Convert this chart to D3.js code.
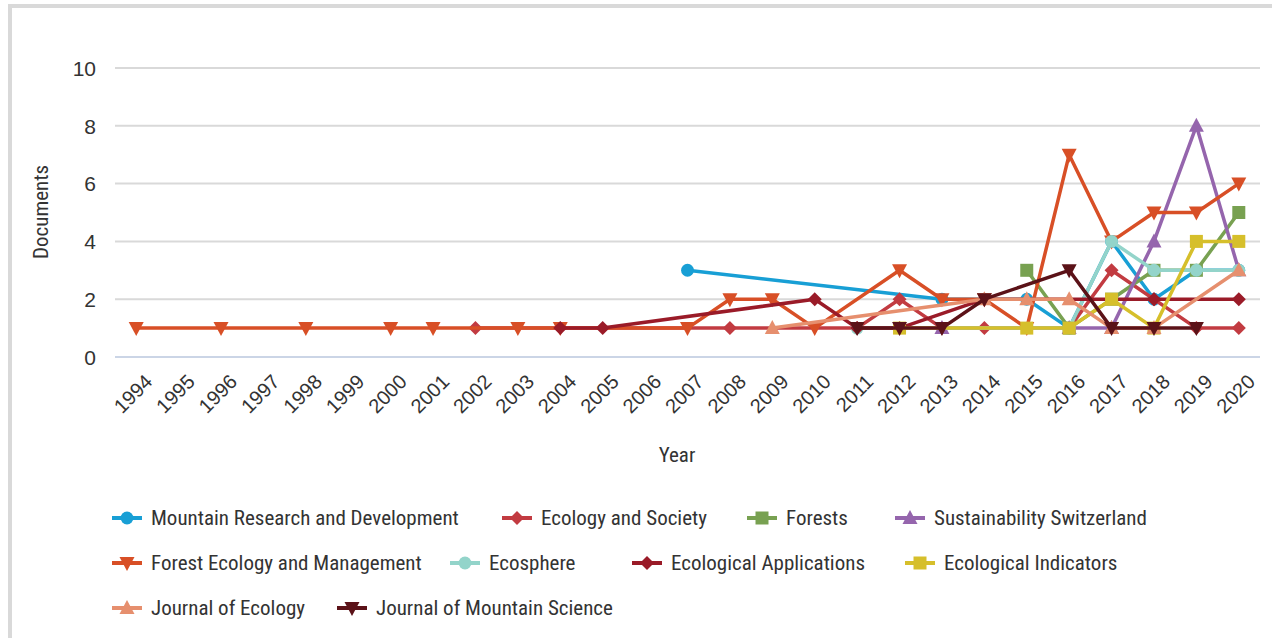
<!DOCTYPE html>
<html>
<head>
<meta charset="utf-8">
<script src="https://cdn.jsdelivr.net/npm/d3@7/dist/d3.min.js"></script>
<style>
  body { margin: 0; background: #fff; }
  svg { display: block; }
  text { font-family: "Liberation Sans Narrow", "Roboto Condensed", "Open Sans", sans-serif; fill: #333; }
</style>
</head>
<body>
<svg id="chart" width="1272" height="638"></svg>
<script>
const years = d3.range(1994, 2021).map(String);
const yTicks = [0, 2, 4, 6, 8, 10];

const seriesNames = [
  "Mountain Research and Development", "Ecology and Society", "Forests", "Sustainability Switzerland",
  "Forest Ecology and Management", "Ecosphere", "Ecological Applications", "Ecological Indicators",
  "Journal of Ecology", "Journal of Mountain Science"
];
const seriesColors = ["#189fd5", "#c23b41", "#78a151", "#9565ad", "#d84f26", "#93d4ca", "#9a1b28", "#d6bf2b", "#e68f6e", "#5b1218"];
const seriesSymbols = ["circle", "diamond", "square", "triUp", "triDown", "circle", "diamond", "square", "triUp", "triDown"];

// [year, documents]
const mrdValues = [[2007,3],[2013,2],[2015,2],[2016,1],[2017,4],[2018,2],[2019,3],[2020,3]];
const esValues = [[2002,1],[2008,1],[2011,1],[2012,2],[2013,1],[2014,1],[2016,1],[2017,3],[2018,2],[2019,1],[2020,1]];
const forestsValues = [[2015,3],[2016,1],[2017,2],[2018,3],[2019,3],[2020,5]];
const sustValues = [[2013,1],[2016,1],[2017,1],[2018,4],[2019,8],[2020,3]];
const femValues = [[1994,1],[1996,1],[1998,1],[2000,1],[2001,1],[2003,1],[2004,1],[2007,1],[2008,2],[2009,2],[2010,1],[2012,3],[2013,2],[2014,2],[2015,1],[2016,7],[2017,4],[2018,5],[2019,5],[2020,6]];
const ecosphereValues = [[2011,1],[2016,1],[2017,4],[2018,3],[2019,3],[2020,3]];
const eaValues = [[2004,1],[2005,1],[2010,2],[2011,1],[2012,1],[2014,2],[2018,2],[2020,2]];
const eiValues = [[2012,1],[2015,1],[2016,1],[2017,2],[2018,1],[2019,4],[2020,4]];
const joeValues = [[2009,1],[2014,2],[2015,2],[2016,2],[2017,1],[2018,1],[2020,3]];
const jmsValues = [[2011,1],[2012,1],[2013,1],[2014,2],[2016,3],[2017,1],[2018,1],[2019,1]];

const seriesValues = [mrdValues, esValues, forestsValues, sustValues, femValues, ecosphereValues, eaValues, eiValues, joeValues, jmsValues];

const svg = d3.select("#chart");

// frame
svg.append("rect").attr("x", 10).attr("y", 6).attr("width", 1275).attr("height", 700)
  .attr("fill", "none").attr("stroke", "#d9d9d9").attr("stroke-width", 4);

const x = d3.scalePoint().domain(years).range([115, 1260]).padding(0.5);
const y = d3.scaleLinear().domain([0, 10]).range([357, 68]);

// gridlines
svg.append("g").selectAll("line").data(yTicks).join("line")
  .attr("x1", 115).attr("x2", 1260)
  .attr("y1", d => y(d)).attr("y2", d => y(d))
  .attr("stroke", d => d === 0 ? "#cbd5e6" : "#d9d9d9").attr("stroke-width", 2);

// y axis labels
const yAxis = d3.axisLeft(y).tickValues(yTicks).tickSize(0).tickPadding(0);
const yg = svg.append("g").attr("transform", "translate(96,0)").call(yAxis);
yg.select(".domain").remove();
yg.selectAll("text").style("font-size", "21px").attr("fill", "#333")
  .style("font-family", "'Liberation Sans Narrow', sans-serif").attr("dy", "0.35em");

// x axis labels
const xAxis = d3.axisBottom(x).tickSize(0).tickPadding(0);
const xg = svg.append("g").attr("transform", "translate(0,372)").call(xAxis);
xg.select(".domain").remove();
xg.selectAll("text").style("font-size", "20px").attr("fill", "#333")
  .style("font-family", "'Liberation Sans Narrow', sans-serif")
  .attr("text-anchor", "end").attr("dy", "0.35em")
  .attr("transform", "translate(12,6) rotate(-45)");

// axis titles
svg.append("text").attr("x", 677).attr("y", 462).attr("text-anchor", "middle")
  .style("font-size", "21px").text("Year");
svg.append("text").attr("transform", "translate(48,212) rotate(-90)").attr("text-anchor", "middle")
  .style("font-size", "21px").text("Documents");

function symbolPath(kind) {
  switch (kind) {
    case "circle": return d3.symbol().type(d3.symbolCircle).size(130)();
    case "diamond": return "M0,-7L7,0L0,7L-7,0Z";
    case "square": return "M-6.5,-6.5H6.5V6.5H-6.5Z";
    case "triUp": return "M0,-8L7.5,6L-7.5,6Z";
    case "triDown": return "M0,8L7.5,-6L-7.5,-6Z";
  }
}

const line = d3.line().x(d => x(String(d[0]))).y(d => y(d[1]));

seriesValues.forEach((vals, i) => {
  const g = svg.append("g");
  g.append("path").attr("d", line(vals)).attr("fill", "none")
    .attr("stroke", seriesColors[i]).attr("stroke-width", 3.5).attr("stroke-linejoin", "round");
  g.selectAll("path.m").data(vals).join("path").attr("class", "m")
    .attr("d", symbolPath(seriesSymbols[i]))
    .attr("transform", d => `translate(${x(String(d[0]))},${y(d[1])})`)
    .attr("fill", seriesColors[i]);
});

// legend
const legendPos = [
  [127, 518], [517, 518], [762, 518], [910, 518],
  [127, 563], [465, 563], [647, 563], [920, 563],
  [127, 608], [352, 608]
];
seriesNames.forEach((name, i) => {
  const [cx, cy] = legendPos[i];
  const g = svg.append("g").attr("transform", `translate(${cx},${cy})`);
  g.append("line").attr("x1", -15).attr("x2", 15).attr("stroke", seriesColors[i]).attr("stroke-width", 4);
  g.append("path").attr("d", symbolPath(seriesSymbols[i])).attr("fill", seriesColors[i]);
  g.append("text").attr("x", 24).attr("dy", "0.35em").style("font-size", "21px").text(name);
});
</script>
</body>
</html>
